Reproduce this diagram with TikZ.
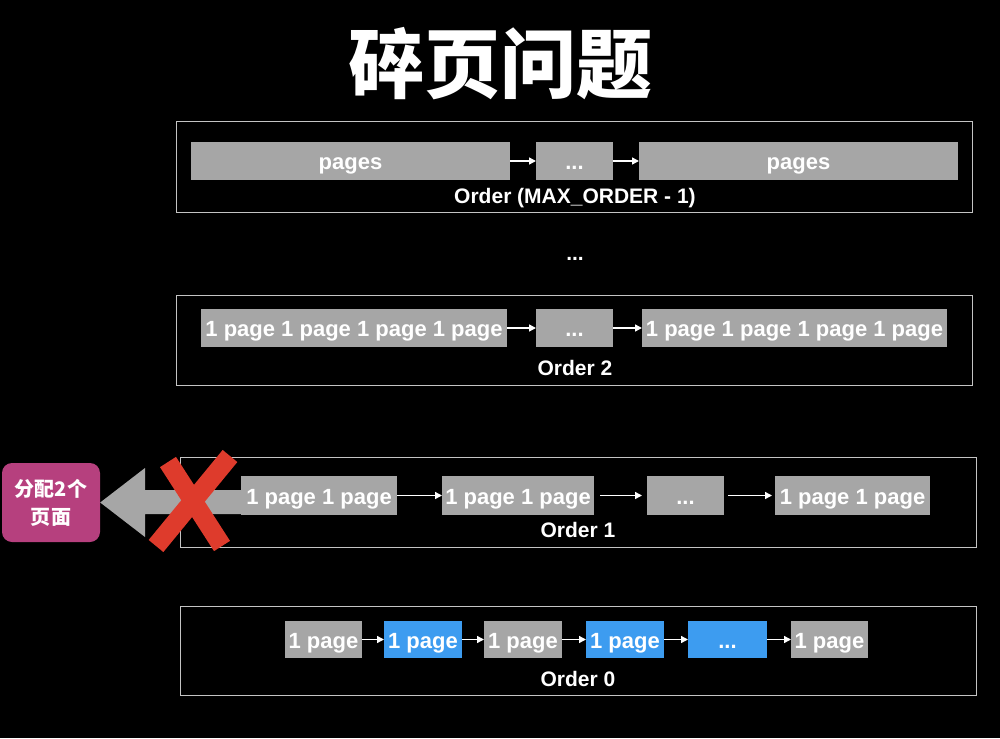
\documentclass[tikz,border=0pt]{standalone}
\usepackage{fontspec}
\setmainfont{Liberation Sans}
\newfontfamily\cjk{Noto Sans CJK SC}
\usetikzlibrary{arrows.meta}
\definecolor{boxgray}{HTML}{A6A6A6}
\definecolor{framegray}{HTML}{C4C4C4}
\definecolor{pageblue}{HTML}{3D9CF0}
\definecolor{pinkbox}{HTML}{B6407E}
\definecolor{redx}{HTML}{DE3B2C}
\tikzset{
  frame/.style={draw=framegray, line width=1pt, inner sep=0pt, outer sep=0pt},
  gbox/.style={fill=boxgray, inner sep=0pt, outer sep=0pt, text=white, text height=19pt, text depth=2pt, font=\bfseries\fontsize{22}{24}\selectfont},
  bbox/.style={gbox, fill=pageblue},
  lbl/.style={text=white, inner sep=0pt, text height=15pt, text depth=4pt, font=\bfseries\fontsize{21}{24}\selectfont},
  link/.style={draw=white, line width=1.4pt, -{Triangle[length=7pt,width=7pt]}},
}
\begin{document}
\begin{tikzpicture}[x=1pt,y=-1pt]
\fill[black] (0,0) rectangle (1000,738);
\useasboundingbox (0,0) rectangle (1000,738);

% title
\node[text=white, inner sep=0pt, font=\cjk\bfseries\fontsize{76}{80}\selectfont] (title) at (500,64) {碎页问题};

% Order MAX-1
\node[frame, minimum width=796, minimum height=90] (fmax) at (574,167) {};
\node[gbox, minimum width=319, minimum height=38] (m1) at (350.5,161) {pages};
\node[gbox, minimum width=77, minimum height=38] (m2) at (574.5,161) {...};
\node[gbox, minimum width=319, minimum height=38] (m3) at (798.5,161) {pages};
\draw[link] (m1) -- (m2);
\draw[link] (m2) -- (m3);
\node[lbl] (lmax) at (575,198) {Order (MAX\_ORDER - 1)};

\node[lbl] (dots) at (575,255) {...};

% Order 2
\node[frame, minimum width=796, minimum height=90] (f2) at (574,340) {};
\node[gbox, minimum width=306, minimum height=38] (t1) at (354,328) {1 page 1 page 1 page 1 page};
\node[gbox, minimum width=77, minimum height=38] (t2) at (574.5,328) {...};
\node[gbox, minimum width=305, minimum height=38] (t3) at (794.5,328) {1 page 1 page 1 page 1 page};
\draw[link] (t1) -- (t2);
\draw[link] (t2) -- (t3);
\node[lbl] (l2) at (575,370) {Order 2};

% Order 1
\node[frame, minimum width=796, minimum height=90] (f1) at (578,502) {};
\node[gbox, minimum width=156, minimum height=39] (o1) at (319,495.5) {1 page 1 page};
\node[gbox, minimum width=152, minimum height=39] (o2) at (518,495.5) {1 page 1 page};
\node[gbox, minimum width=77, minimum height=39] (o3) at (685.5,495.5) {...};
\node[gbox, minimum width=155, minimum height=39] (o4) at (852.5,495.5) {1 page 1 page};
\draw[link] (o1) -- (o2);
\draw[link] ([xshift=6pt]o2.east) -- ([xshift=-5pt]o3.west);
\draw[link] ([xshift=4pt]o3.east) -- ([xshift=-3pt]o4.west);
\node[lbl] (l1) at (578,532) {Order 1};

% Order 0
\node[frame, minimum width=796, minimum height=89] (f0) at (578,650.5) {};
\node[gbox, minimum width=77, minimum height=37] (z1) at (323.5,639.5) {1 page};
\node[bbox, minimum width=78, minimum height=37] (z2) at (423,639.5) {1 page};
\node[gbox, minimum width=78, minimum height=37] (z3) at (523,639.5) {1 page};
\node[bbox, minimum width=78, minimum height=37] (z4) at (625,639.5) {1 page};
\node[bbox, minimum width=79, minimum height=37] (z5) at (727.5,639.5) {...};
\node[gbox, minimum width=77, minimum height=37] (z6) at (829.5,639.5) {1 page};
\draw[link] (z1) -- (z2);
\draw[link] (z2) -- (z3);
\draw[link] (z3) -- (z4);
\draw[link] (z4) -- (z5);
\draw[link] (z5) -- (z6);
\node[lbl] (l0) at (578,681) {Order 0};

% allocation request
\node[fill=pinkbox, rounded corners=10pt, minimum width=98, minimum height=79, inner sep=0pt, text=white, align=center, font=\cjk\bfseries\fontsize{20}{28}\selectfont] (req) at (51,502.5) {分配2个\\页面};
\fill[boxgray] (req.east) -- (145,468) -- (145,490) -- (o1.west |- 0,490) -- (o1.west |- 0,514) -- (145,514) -- (145,537) -- cycle;

% red cross
\draw[redx, line width=19pt] (168,462) -- (222,546);
\draw[redx, line width=19pt] (230,456) -- (156,546);
\end{tikzpicture}
\end{document}
